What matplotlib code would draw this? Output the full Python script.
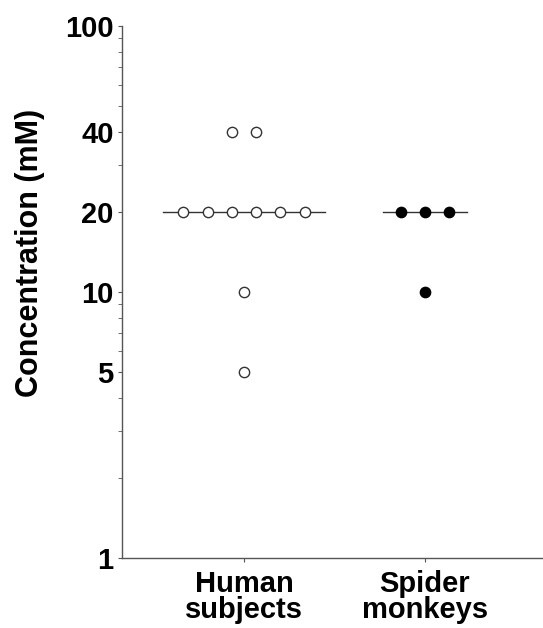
import numpy as np
import matplotlib.pyplot as plt
from matplotlib.ticker import FixedLocator, NullFormatter

# data
groups = ['Human\nsubjects', 'Spider\nmonkeys']
human_conc = [20, 20, 20, 20, 20, 20, 40, 40, 10, 5]
human_offset = [-2.5, -1.5, -0.5, 0.5, 1.5, 2.5, -0.5, 0.5, 0, 0]
monkey_conc = [20, 20, 20, 10]
monkey_offset = [-1, 0, 1, 0]
medians = [20, 20]
median_halfwidth = [3.35, 1.75]  # in units of point spacing

major_ticks = [1, 5, 10, 20, 40, 100]

plt.rcParams['font.family'] = ['Liberation Sans', 'DejaVu Sans']

fig = plt.figure(figsize=(5.43, 6.28), dpi=100)
ax = fig.add_axes([0.2247, 0.1115, 0.7753, 0.8471])

step = 0.134
xpos = [1, 2]

for x, m, hw in zip(xpos, medians, median_halfwidth):
    ax.plot([x - hw * step, x + hw * step], [m, m], color='#333333', lw=1, zorder=1)

ax.scatter(1 + np.array(human_offset) * step, human_conc, s=55,
           facecolor='white', edgecolor='#333333', linewidth=1, zorder=3)
ax.scatter(2 + np.array(monkey_offset) * step, monkey_conc, s=55,
           facecolor='black', edgecolor='black', linewidth=1, zorder=3)

ax.set_yscale('log')
ax.set_ylim(1, 100)
ax.set_xlim(0.326, 2.652)

ax.yaxis.set_major_locator(FixedLocator(major_ticks))
ax.set_yticklabels([str(t) for t in major_ticks])
minor = [v for d in (1, 10) for v in np.arange(2, 10) * d if v not in major_ticks]
ax.yaxis.set_minor_locator(FixedLocator(minor))
ax.yaxis.set_minor_formatter(NullFormatter())

ax.set_xticks(xpos)
ax.set_xticklabels(groups)

for sp in ['top', 'right']:
    ax.spines[sp].set_visible(False)
for sp in ['left', 'bottom']:
    ax.spines[sp].set_color('#555555')
    ax.spines[sp].set_linewidth(1)

ax.tick_params(axis='y', which='major', length=3, color='#555555', labelsize=21, pad=3)
ax.tick_params(axis='y', which='minor', length=3, color='#555555')
ax.tick_params(axis='x', length=3, color='#555555', labelsize=21, pad=6)
for lab in ax.get_yticklabels() + ax.get_xticklabels():
    lab.set_fontweight('bold')
for lab in ax.get_xticklabels():
    lab.set_linespacing(0.88)

ax.set_ylabel('Concentration (mM)', fontsize=22, fontweight='bold')
ax.yaxis.set_label_coords(-0.183, 0.573)

fig.savefig('out.png', dpi=100)
